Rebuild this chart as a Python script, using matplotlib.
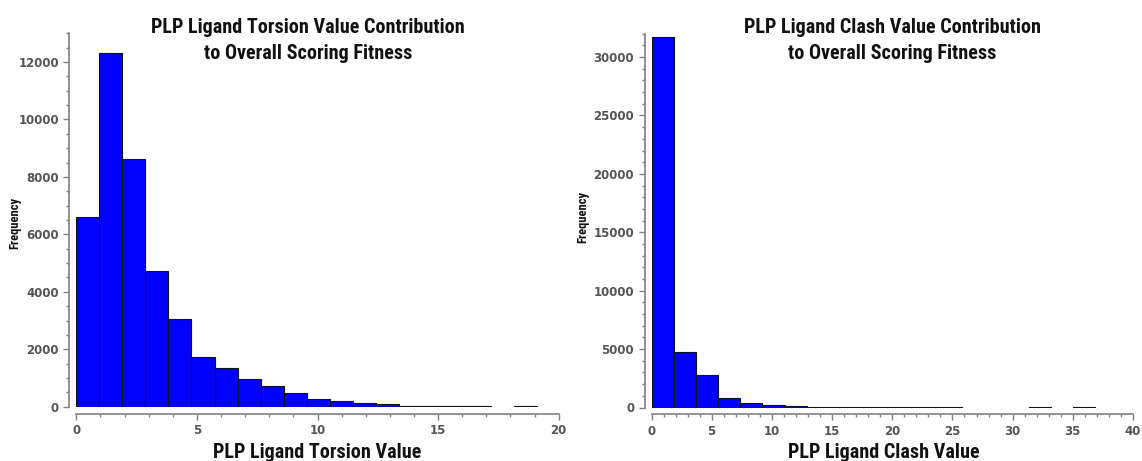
import numpy as np
import matplotlib
matplotlib.use("Agg")
import matplotlib.pyplot as plt
from matplotlib.ticker import MultipleLocator
from matplotlib import font_manager

# ---------------- data ----------------
torsion_bin_start = 0.0
torsion_bin_width = 0.955
torsion_counts = [6590, 12320, 8640, 4712, 3062, 1745, 1350, 955, 705, 490,
                  280, 190, 120, 80, 40, 30, 25, 20, 0, 15]

clash_bin_start = 0.0
clash_bin_width = 1.8435
clash_counts = [31700, 4775, 2780, 850, 420, 250, 170, 80, 60, 50,
                40, 30, 25, 20, 0, 0, 0, 15, 0, 15]

torsion_title = "PLP Ligand Torsion Value Contribution\nto Overall Scoring Fitness"
clash_title = "PLP Ligand Clash Value Contribution\nto Overall Scoring Fitness"
torsion_xlabel = "PLP Ligand Torsion Value"
clash_xlabel = "PLP Ligand Clash Value"
ylabel = "Frequency"

# ---------------- style ----------------
W, H = 1142, 461
fig = plt.figure(figsize=(W / 100, H / 100), dpi=100)

names = {f.name for f in font_manager.fontManager.ttflist}
cond = [n for n in ["Roboto Condensed", "Open Sans Condensed", "DejaVu Sans Condensed",
                    "Liberation Sans Narrow", "Roboto", "DejaVu Sans"] if n in names]
tick_col = "#555555"
spine_col = "#808080"


def px(x, y):
    return x / W, 1 - y / H


def make_axes(x0, x1, y0, y1):
    return fig.add_axes([x0 / W, 1 - y0 / H, (x1 - x0) / W, (y0 - y1) / H])


def style(ax, xmax, ymax, ymajor, yminor):
    ax.set_xlim(0, xmax)
    ax.set_ylim(0, ymax)
    for s in ["top", "right"]:
        ax.spines[s].set_visible(False)
    ax.spines["left"].set_position(("outward", 5))
    ax.spines["bottom"].set_position(("outward", 5))
    for s in ["left", "bottom"]:
        ax.spines[s].set_color(spine_col)
        ax.spines[s].set_linewidth(1.2)
    ax.xaxis.set_major_locator(MultipleLocator(5))
    ax.xaxis.set_minor_locator(MultipleLocator(1))
    ax.yaxis.set_major_locator(MultipleLocator(ymajor))
    ax.yaxis.set_minor_locator(MultipleLocator(yminor))
    ax.tick_params(which="major", length=4.5, width=1, color=spine_col,
                   labelsize=8.5, labelcolor=tick_col, pad=3)
    ax.tick_params(which="minor", length=2.5, width=1, color=spine_col)
    for lab in ax.get_xticklabels() + ax.get_yticklabels():
        lab.set_fontweight("bold")
        lab.set_family("DejaVu Sans")


def draw(ax, start, width, counts):
    lefts = [start + i * width for i in range(len(counts))]
    keep = [(l, c) for l, c in zip(lefts, counts) if c > 0]
    ax.bar([k[0] for k in keep], [k[1] for k in keep], width=width,
           align="edge", color="#0000FF", edgecolor="#111111", linewidth=0.8)


# left panel
ax1 = make_axes(76.3, 558.7, 406.7, 33.3)
draw(ax1, torsion_bin_start, torsion_bin_width, torsion_counts)
style(ax1, 20, 13000, 2000, 500)

# right panel
ax2 = make_axes(651.5, 1133, 407.5, 33.7)
draw(ax2, clash_bin_start, clash_bin_width, clash_counts)
style(ax2, 40, 32000, 5000, 1000)

tkw = dict(fontweight="bold", family=cond, color="#111111", fontstretch="condensed")

# titles
fig.text(*px(308, 40.5), torsion_title, ha="center", va="center", fontsize=14.5,
         linespacing=1.45, **tkw)
fig.text(*px(892, 40.5), clash_title, ha="center", va="center", fontsize=14.5,
         linespacing=1.45, **tkw)

# x labels
fig.text(*px(317, 458), torsion_xlabel, ha="center", va="baseline", fontsize=14.5, **tkw)
fig.text(*px(884, 458), clash_xlabel, ha="center", va="baseline", fontsize=14.5, **tkw)

# y labels
fig.text(*px(15, 223), ylabel, ha="center", va="center", rotation=90, fontsize=9, **tkw)
fig.text(*px(583, 217), ylabel, ha="center", va="center", rotation=90, fontsize=9, **tkw)

fig.savefig("out.png", dpi=100)
